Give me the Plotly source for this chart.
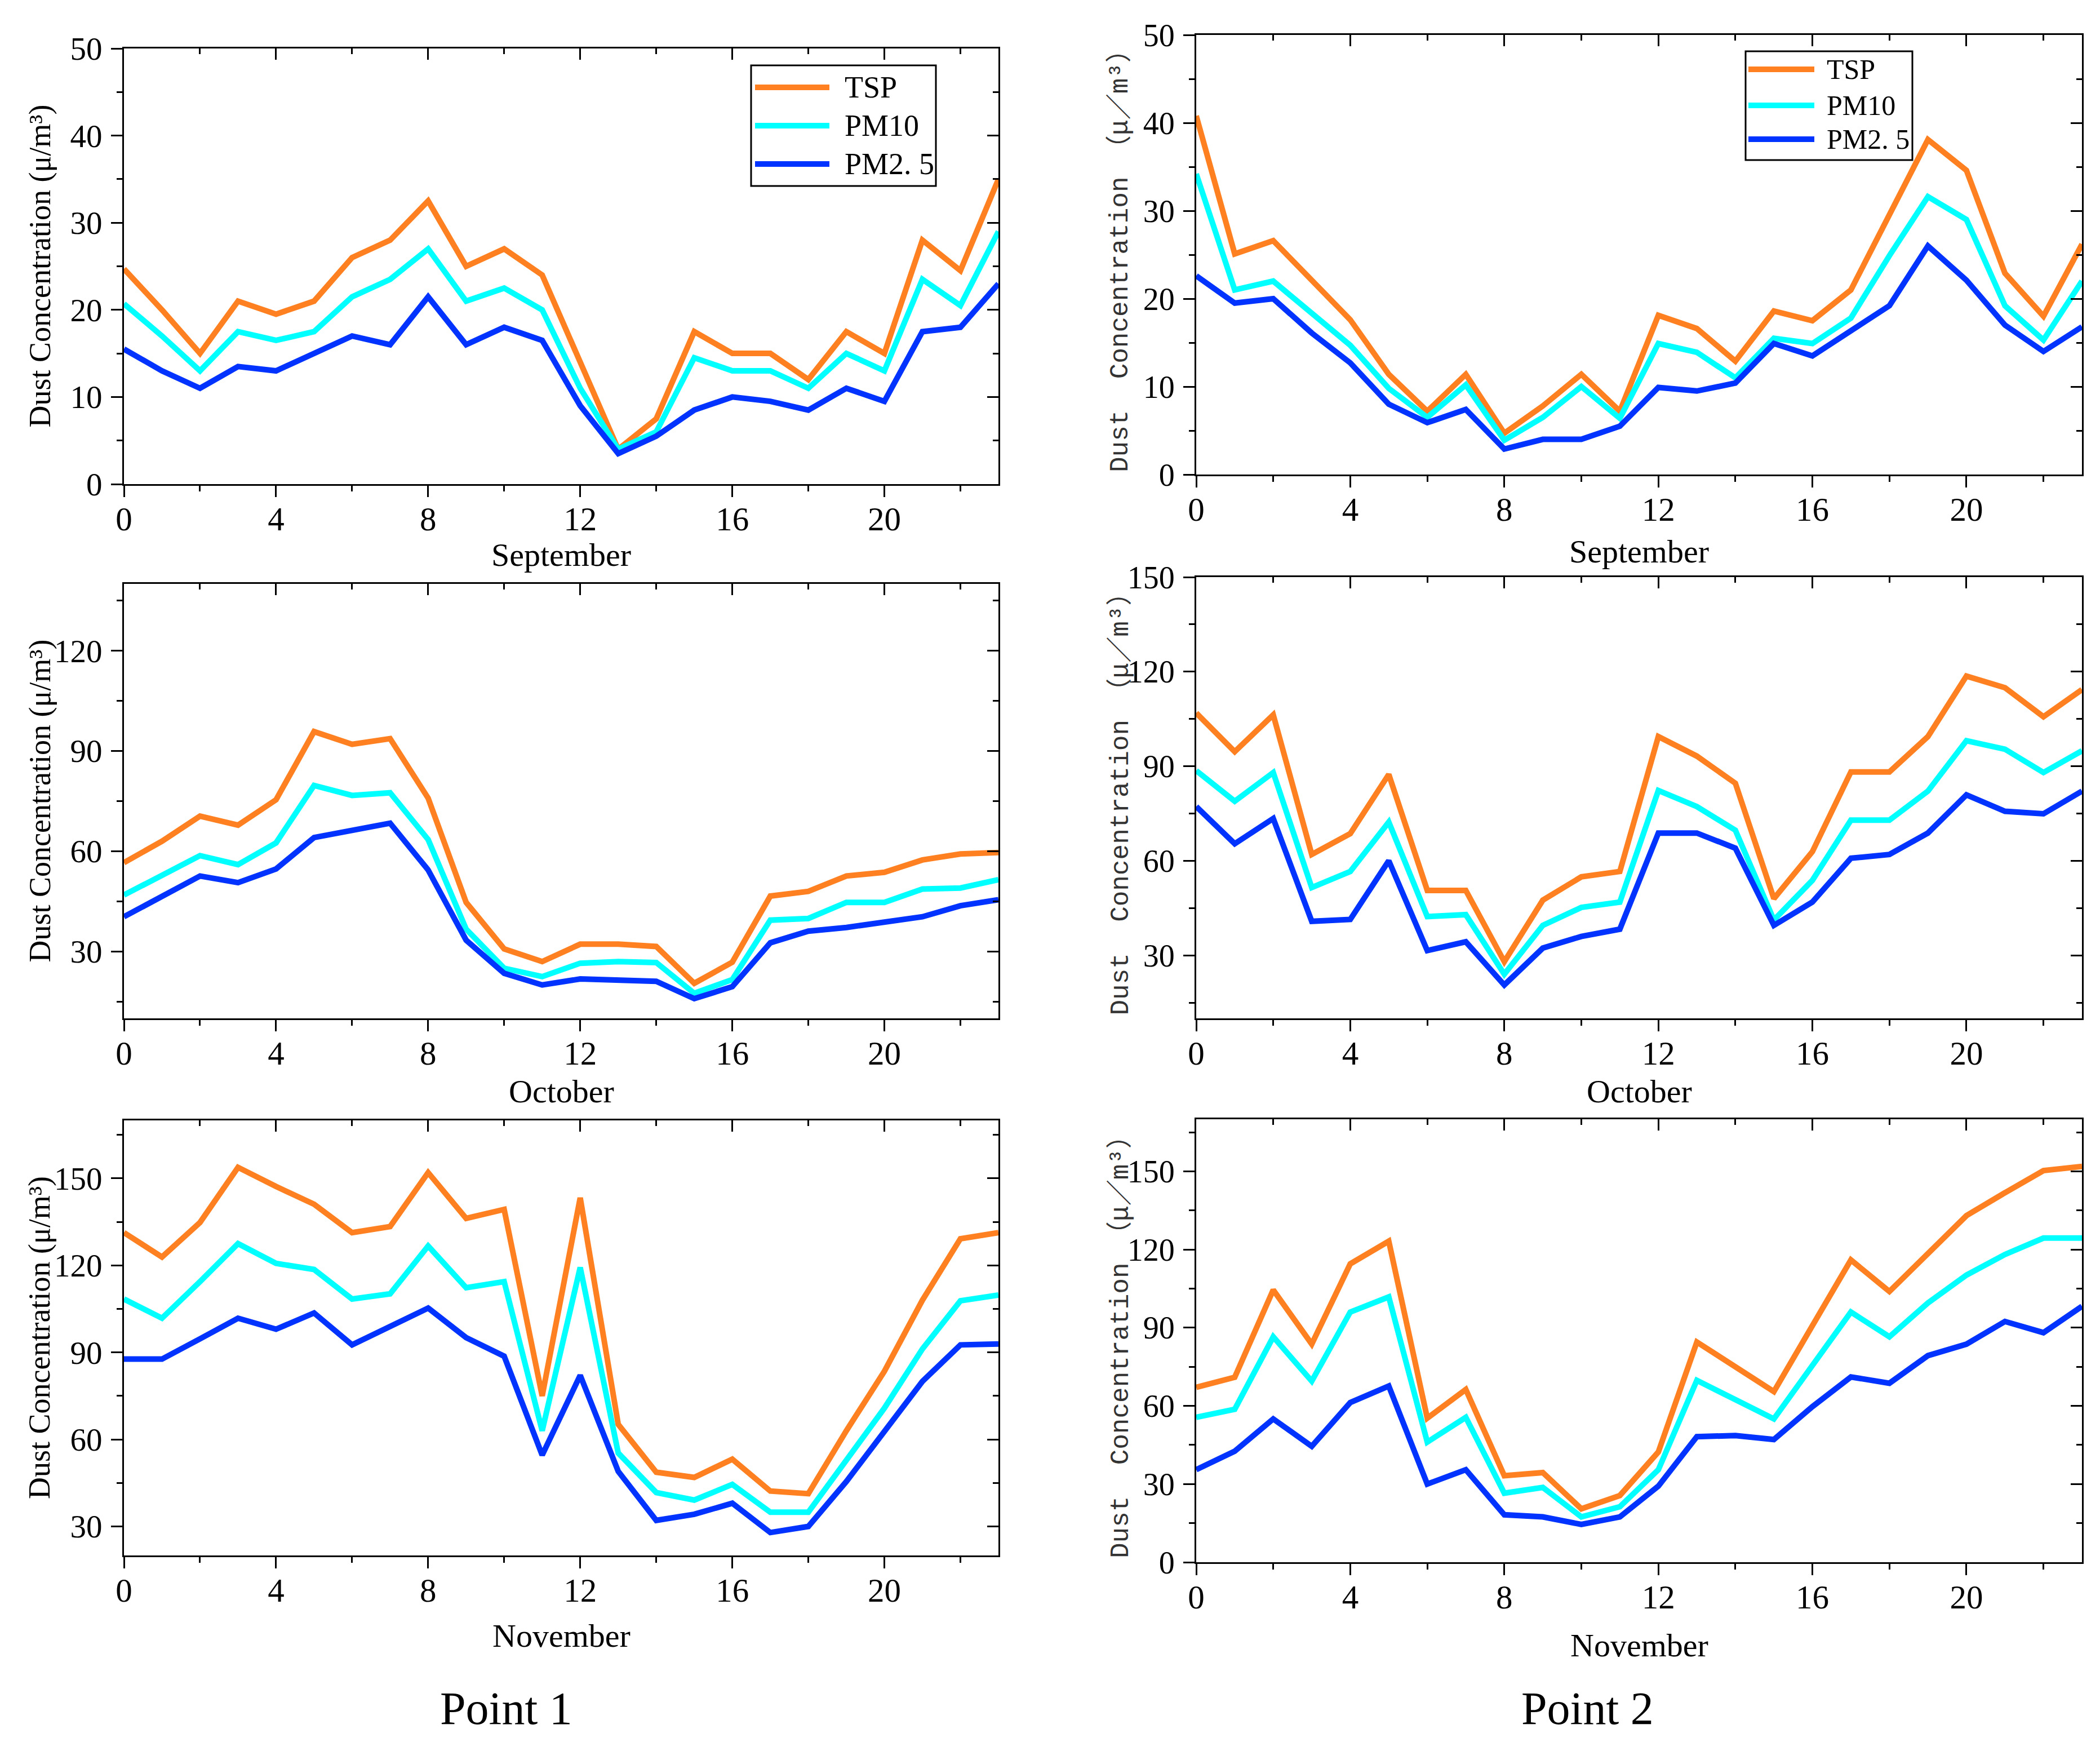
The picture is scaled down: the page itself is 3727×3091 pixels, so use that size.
import plotly.graph_objects as go

W, H = 3727, 3091

hours = list(range(24))
x_ticks = [0, 4, 8, 12, 16, 20]
months = ["September", "October", "November"]
series_names = ["TSP", "PM10", "PM2. 5"]
colors = ["#FF8020", "#00FFFF", "#0033FF"]

# ---- Point 1 ----
p1_sep_tsp = [24.7, 20, 15, 21, 19.5, 21, 26, 28, 32.5, 25, 27, 24, 14, 4, 7.5, 17.5, 15, 15, 12, 17.5, 15, 28, 24.5, 35]
p1_sep_pm10 = [20.7, 17, 13, 17.5, 16.5, 17.5, 21.5, 23.5, 27, 21, 22.5, 20, 11, 4, 6, 14.5, 13, 13, 11, 15, 13, 23.5, 20.5, 29]
p1_sep_pm25 = [15.5, 13, 11, 13.5, 13, 15, 17, 16, 21.5, 16, 18, 16.5, 9, 3.5, 5.5, 8.5, 10, 9.5, 8.5, 11, 9.5, 17.5, 18, 23]

p1_oct_tsp = [56.6, 63, 70.5, 67.8, 75.4, 95.8, 92, 93.7, 75.9, 44.7, 30.8, 27, 32.2, 32.2, 31.5, 20.5, 26.8, 46.6, 48, 52.6, 53.7, 57.4, 59.2, 59.6]
p1_oct_pm10 = [46.9, 52.8, 58.7, 56, 62.5, 79.7, 76.7, 77.5, 63.5, 36.7, 25, 22.5, 26.5, 27, 26.7, 17.5, 21.6, 39.4, 39.9, 44.7, 44.7, 48.7, 49, 51.5]
p1_oct_pm25 = [40.4, 46.6, 52.6, 50.6, 54.7, 64.1, 66.2, 68.4, 54.4, 33.4, 23.5, 20, 21.8, 21.6, 21.1, 15.9, 19.5, 32.6, 36.1, 37.2, 38.6, 40.4, 43.7, 45.5]

p1_nov_tsp = [131.3, 122.9, 134.8, 153.8, 147.2, 141.1, 131.3, 133.4, 152, 136.2, 139.3, 75, 143.3, 65.2, 48.7, 46.9, 53.2, 42.2, 41.3, 63, 83.5, 108, 129.2, 131.3]
p1_nov_pm10 = [108.4, 101.8, 114.4, 127.5, 120.7, 118.6, 108.4, 110.2, 126.7, 112.3, 114.4, 63, 119.3, 55.3, 41.7, 39.1, 44.5, 34.9, 34.9, 53.2, 70.8, 91.2, 107.8, 109.8]
p1_nov_pm25 = [87.7, 87.7, 94.7, 101.8, 98, 103.6, 92.6, 98.9, 105.3, 95.1, 88.7, 54.6, 82.1, 49, 32.1, 34.2, 38, 27.9, 30, 45.5, 62.4, 80, 92.6, 92.9]

# ---- Point 2 ----
p2_sep_tsp = [40.8, 25.1, 26.6, 22, 17.6, 11.4, 7.2, 11.4, 4.7, 7.8, 11.4, 7.2, 18.1, 16.6, 12.9, 18.6, 17.5, 21, 29.4, 38.1, 34.6, 22.9, 18, 26.2]
p2_sep_pm10 = [34.2, 21, 22, 18.4, 14.7, 9.8, 6.5, 10.2, 3.9, 6.5, 10, 6.4, 14.9, 13.9, 11, 15.5, 14.9, 17.8, 24.9, 31.6, 29, 19.2, 15.3, 22]
p2_sep_pm25 = [22.6, 19.5, 20, 16.1, 12.7, 8, 5.9, 7.4, 2.9, 4, 4, 5.5, 9.9, 9.5, 10.4, 14.9, 13.5, 16.4, 19.2, 26, 22.1, 17, 14, 16.8]

p2_oct_tsp = [106.9, 94.6, 106.3, 62, 68.6, 87.4, 50.6, 50.6, 28, 47.5, 54.9, 56.6, 99.4, 93.2, 84.6, 48, 62.9, 88.2, 88.2, 99.4, 118.6, 114.9, 105.7, 114.3]
p2_oct_pm10 = [88.6, 78.9, 88, 51.5, 56.6, 72.3, 42.3, 42.9, 24, 39.5, 45.2, 46.9, 82.3, 77.2, 69.7, 41.2, 53.8, 72.9, 72.9, 82.1, 98.1, 95.4, 88, 94.9]
p2_oct_pm25 = [77.2, 65.4, 73.4, 40.8, 41.4, 60, 31.5, 34.3, 20.6, 32.3, 36, 38.3, 68.8, 68.8, 64, 39.5, 46.9, 60.8, 62, 68.8, 80.9, 75.7, 74.9, 82.1]

p2_nov_tsp = [67.1, 71, 104.5, 83.7, 114.5, 123.2, 55.3, 66.3, 33.2, 34.4, 20.5, 25.6, 42.3, 84.5, 75, 65.5, 90.8, 116, 103.9, 118.4, 133, 141.8, 150.3, 151.9]
p2_nov_pm10 = [55.6, 58.7, 86.5, 69.5, 96, 101.8, 46.1, 55.6, 26.5, 28.7, 17.4, 21.3, 35.5, 69.8, 62.4, 55, 75.5, 96, 86.5, 99.5, 110.2, 118.1, 124.4, 124.4]
p2_nov_pm25 = [35.5, 42.6, 55, 44.5, 61.3, 67.6, 30, 35.5, 18.2, 17.4, 14.5, 17.4, 29.2, 48.2, 48.6, 47.1, 59.7, 71.1, 68.7, 79.3, 83.7, 92.4, 88.1, 98.2]

y_ranges = {"sep": [0, 50], "p1_oct": [10, 140], "p2_oct": [10, 150], "p1_nov": [20, 170], "p2_nov": [0, 170]}


def px(xp):
    return xp / W


def py(yp):
    return 1 - yp / H


SERIF = "Liberation Serif"

# panel pixel boxes: (left, right, top, bottom)
panels = [
    dict(box=(220, 1772, 86, 859), yr=y_ranges["sep"], dt=10, mn=5, data=(p1_sep_tsp, p1_sep_pm10, p1_sep_pm25), month=months[0], side="L", xt=984),
    dict(box=(2123, 3695, 62, 842), yr=y_ranges["sep"], dt=10, mn=5, data=(p2_sep_tsp, p2_sep_pm10, p2_sep_pm25), month=months[0], side="R", xt=978),
    dict(box=(220, 1772, 1036, 1807), yr=y_ranges["p1_oct"], dt=30, mn=15, data=(p1_oct_tsp, p1_oct_pm10, p1_oct_pm25), month=months[1], side="L", xt=1937),
    dict(box=(2123, 3695, 1024, 1807), yr=y_ranges["p2_oct"], dt=30, mn=15, data=(p2_oct_tsp, p2_oct_pm10, p2_oct_pm25), month=months[1], side="R", xt=1937),
    dict(box=(220, 1772, 1988, 2760), yr=y_ranges["p1_nov"], dt=30, mn=15, data=(p1_nov_tsp, p1_nov_pm10, p1_nov_pm25), month=months[2], side="L", xt=2902),
    dict(box=(2123, 3695, 1986, 2772), yr=y_ranges["p2_nov"], dt=30, mn=15, data=(p2_nov_tsp, p2_nov_pm10, p2_nov_pm25), month=months[2], side="R", xt=2919),
]

fig = go.Figure()
layout = {}
annotations = []
shapes = []

for i, p in enumerate(panels, start=1):
    l, r, t, b = p["box"]
    xd = [px(l), px(r)]
    yd = [py(b), py(t)]
    sfx = "" if i == 1 else str(i)
    o = i + 6
    xfont = dict(family=SERIF, size=59, color="black")
    yfont = dict(family=SERIF, size=57 if p["side"] == "L" else 56, color="black")
    common = dict(showgrid=False, zeroline=False, showline=True, linewidth=3, linecolor="black", automargin=False)
    layout["xaxis" + sfx] = dict(domain=xd, range=[0, 23], tickmode="array", tickvals=x_ticks,
                                 ticks="outside", ticklen=20, tickwidth=3, tickcolor="black",
                                 minor=dict(dtick=2, tick0=0, ticks="outside", ticklen=10, tickwidth=3, tickcolor="black"),
                                 ticklabelstandoff=-12,
                                 tickfont=xfont, anchor="y" + sfx, **common)
    layout["yaxis" + sfx] = dict(domain=yd, range=p["yr"], tick0=0, dtick=p["dt"],
                                 ticks="outside", ticklen=20, tickwidth=3, tickcolor="black",
                                 minor=dict(dtick=p["mn"], tick0=0, ticks="outside", ticklen=10, tickwidth=3, tickcolor="black"),
                                 ticklabelstandoff=4,
                                 tickfont=yfont, anchor="x" + sfx, **common)
    layout["xaxis" + str(o)] = dict(domain=xd, range=[0, 23], overlaying="x" + sfx, side="top",
                                    anchor="y" + sfx, tickmode="array", tickvals=x_ticks,
                                    ticks="inside", ticklen=20, tickwidth=3, tickcolor="black", showticklabels=False,
                                    minor=dict(dtick=2, tick0=0, ticks="inside", ticklen=10, tickwidth=3, tickcolor="black"),
                                    **common)
    layout["yaxis" + str(o)] = dict(domain=yd, range=p["yr"], overlaying="y" + sfx, side="right",
                                    anchor="x" + sfx, tick0=0, dtick=p["dt"],
                                    ticks="inside", ticklen=20, tickwidth=3, tickcolor="black", showticklabels=False,
                                    minor=dict(dtick=p["mn"], tick0=0, ticks="inside", ticklen=10, tickwidth=3, tickcolor="black"),
                                    **common)
    xa = "x" + sfx
    ya = "y" + sfx
    for vals, name, c in zip(p["data"], series_names, colors):
        fig.add_trace(go.Scatter(x=hours, y=vals, mode="lines", name=name, line=dict(color=c, width=10),
                                 xaxis=xa, yaxis=ya, showlegend=False))
    # empty helper traces so the mirrored top/right axes are drawn
    fig.add_trace(go.Scatter(x=[], y=[], xaxis="x" + str(o), yaxis=ya, showlegend=False, hoverinfo="skip"))
    fig.add_trace(go.Scatter(x=[], y=[], xaxis=xa, yaxis="y" + str(o), showlegend=False, hoverinfo="skip"))

    # x-axis title
    annotations.append(dict(text=p["month"], x=px((l + r) / 2), y=py(p["xt"]), xref="paper", yref="paper",
                            showarrow=False, xanchor="center", yanchor="middle",
                            font=dict(family=SERIF, size=58, color="black")))
    # y-axis title
    ymid = py((t + b) / 2)
    if p["side"] == "L":
        annotations.append(dict(text="Dust Concentration (μ/m³)", x=px(70), y=ymid, xref="paper", yref="paper",
                                showarrow=False, textangle=-90, xanchor="center", yanchor="middle",
                                font=dict(family=SERIF, size=54, color="black")))
    else:
        annotations.append(dict(text="Dust  Concentration （μ／m³）", x=px(1989), y=ymid, xref="paper", yref="paper",
                                showarrow=False, textangle=-90, xanchor="center", yanchor="middle",
                                font=dict(family="Liberation Mono, Noto Sans CJK SC", size=46, color="#333333")))

# bottom captions
annotations.append(dict(text="Point 1", x=px(898), y=py(3031), xref="paper", yref="paper", showarrow=False,
                        xanchor="center", yanchor="middle", font=dict(family=SERIF, size=82, color="black")))
annotations.append(dict(text="Point 2", x=px(2817), y=py(3031), xref="paper", yref="paper", showarrow=False,
                        xanchor="center", yanchor="middle", font=dict(family=SERIF, size=82, color="black")))

# legends (drawn as boxes with line samples)
legend_specs = [
    dict(box=(1333, 1661, 116, 330), line=(1340, 1472), text_x=1497, rows=[155, 223, 291], fs=54),
    dict(box=(3098, 3394, 91, 284), line=(3103, 3220), text_x=3240, rows=[123, 187, 247], fs=50),
]
for lg in legend_specs:
    l, r, t, b = lg["box"]
    shapes.append(dict(type="rect", xref="paper", yref="paper", x0=px(l), x1=px(r), y0=py(b), y1=py(t),
                       line=dict(color="black", width=3), fillcolor="white", layer="above"))
    for row, name, c in zip(lg["rows"], series_names, colors):
        shapes.append(dict(type="line", xref="paper", yref="paper", x0=px(lg["line"][0]), x1=px(lg["line"][1]),
                           y0=py(row), y1=py(row), line=dict(color=c, width=10), layer="above"))
        annotations.append(dict(text=name, x=px(lg["text_x"]), y=py(row), xref="paper", yref="paper",
                                showarrow=False, xanchor="left", yanchor="middle",
                                font=dict(family=SERIF, size=lg["fs"], color="black")))

fig.update_layout(width=W, height=H, margin=dict(l=0, r=0, t=0, b=0, autoexpand=False),
                  plot_bgcolor="white", paper_bgcolor="white", showlegend=False,
                  annotations=annotations, shapes=shapes, **layout)

fig.write_html("out.html", config={"displayModeBar": False},
               post_script="document.body.style.margin='0px';document.body.style.padding='0px';")
